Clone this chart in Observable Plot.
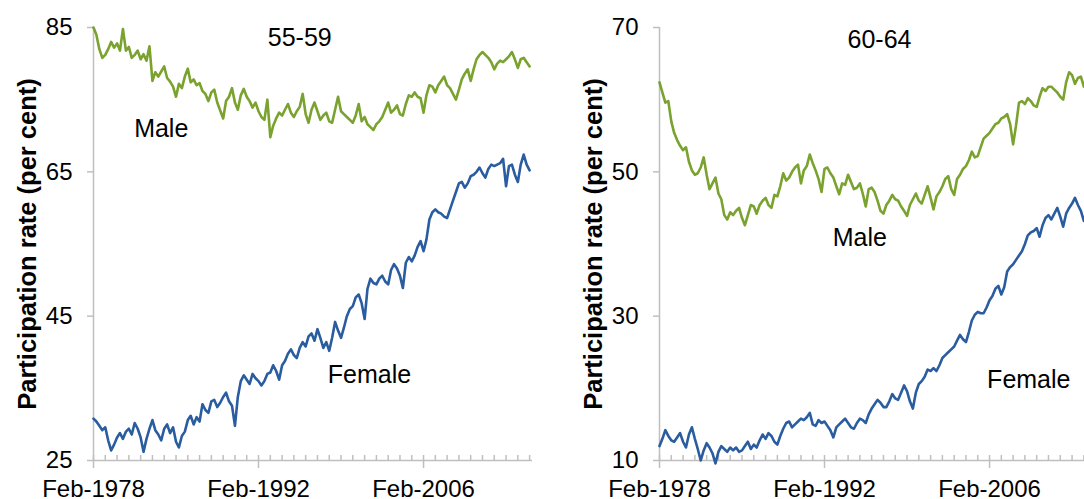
<!DOCTYPE html>
<html>
<head>
<meta charset="utf-8">
<script src="https://cdn.jsdelivr.net/npm/d3@7"></script>
<script src="https://cdn.jsdelivr.net/npm/@observablehq/plot@0.6"></script>
<style>
  html, body { margin: 0; padding: 0; background: white; overflow: hidden; }
  #wrap { display: flex; width: 1132px; }
  #wrap svg { flex-shrink: 0; }
</style>
</head>
<body>
<div id="wrap"></div>
<script>
// Quarterly readings starting Feb-1978 (every 3 months)
const startDate = new Date(Date.UTC(1978, 1, 1));
const endDate = new Date(Date.UTC(2015, 4, 1));

const panelTitles = ["55-59", "60-64"];
const seriesNames = ["Male", "Female"];
const yTicksLeft = [25, 45, 65, 85];
const yTicksRight = [10, 30, 50, 70];
const xTickLabels = ["Feb-1978", "Feb-1992", "Feb-2006"];
const yLabel = "Participation rate (per cent)";

const male5559 = [85.0,84.0,82.0,80.8,81.2,82.0,83.0,82.2,82.8,81.8, 84.8,81.8,82.3,80.8,81.2,81.8,80.6,81.3,80.4,82.4, 77.6,78.8,78.2,78.9,79.6,78.0,77.5,76.8,75.4,77.2, 76.6,78.2,79.3,77.4,77.8,77.0,77.3,76.2,75.8,74.8, 76.0,76.4,74.6,73.5,72.4,74.8,75.4,76.6,74.6,73.6, 75.6,76.5,75.4,74.8,73.9,74.6,73.4,72.6,72.2,75.0, 69.8,71.4,72.4,73.2,72.8,73.6,74.4,73.2,72.6,73.4, 74.0,75.8,73.0,71.8,73.6,74.6,73.4,72.2,72.8,73.2, 72.0,71.8,73.6,75.4,73.4,73.0,72.6,72.2,71.8,72.8, 74.4,72.0,72.6,71.6,71.2,70.8,71.6,72.0,72.6,73.6, 74.6,73.2,73.6,74.2,73.0,72.8,74.4,75.6,75.4,76.0, 75.4,75.2,73.2,75.6,77.0,76.8,76.0,77.0,77.6,78.2, 77.0,76.6,75.8,75.0,76.4,77.8,78.6,79.2,77.6,79.2, 80.6,81.2,81.6,81.2,80.8,80.2,79.2,80.0,80.4,80.2, 80.6,81.0,81.6,80.6,79.4,80.6,80.8,80.2,79.6];

const female5559 = [30.8,30.4,29.8,29.2,29.6,27.8,26.4,27.2,28.2,28.8, 28.0,29.0,29.4,28.6,30.2,29.4,28.2,26.2,28.0,29.4, 30.6,29.2,28.6,27.8,29.4,30.0,28.8,29.6,27.6,26.8, 28.4,29.0,30.6,31.2,30.0,31.0,30.4,32.8,32.0,31.6, 33.2,33.4,32.4,33.0,33.8,34.4,33.2,32.6,29.8,33.8, 36.0,36.8,36.2,35.6,37.0,36.4,36.0,35.4,36.0,37.0, 37.2,38.2,37.4,36.2,38.2,38.8,39.8,40.4,39.6,39.2, 40.6,41.4,40.8,42.2,42.6,41.6,43.2,42.0,40.6,41.4, 40.2,42.0,44.2,43.0,42.0,43.4,45.0,46.0,46.4,47.6, 48.0,46.8,44.6,48.8,50.2,49.6,49.4,50.2,50.6,49.8, 49.4,51.4,52.2,51.6,50.6,48.9,52.4,53.2,52.6,53.4, 54.6,55.4,54.0,55.6,58.4,59.4,59.8,59.4,59.2,58.8, 58.6,59.8,61.0,62.2,63.4,63.6,62.8,63.4,64.4,64.6, 65.0,65.6,64.8,64.2,65.4,66.0,65.8,66.0,66.2,66.8, 63.0,65.8,66.0,64.6,63.6,66.0,67.4,66.0,65.2];

const male6064 = [62.4,61.0,59.6,59.8,57.0,55.4,54.4,53.6,53.0,53.4, 51.4,50.2,49.6,49.8,50.6,52.0,49.6,47.6,48.4,49.2, 47.0,46.2,44.0,43.4,44.4,44.0,44.6,45.0,43.6,42.6, 44.0,45.4,45.2,44.2,45.4,46.0,46.4,45.4,45.0,46.8, 46.6,48.0,49.8,48.8,49.2,50.0,50.6,51.0,48.4,50.2, 50.8,52.4,51.2,50.2,49.0,47.2,50.4,50.6,49.8,49.2, 48.0,46.9,48.4,48.2,49.6,48.6,47.6,47.8,48.4,47.0, 45.2,47.6,47.8,47.2,46.0,44.6,44.2,45.4,46.0,46.8, 46.2,46.0,45.2,44.6,43.9,45.4,46.2,47.0,46.0,45.6, 46.8,48.0,46.4,44.8,46.6,47.2,48.0,49.0,49.4,47.6, 46.8,49.0,49.6,50.4,50.8,51.6,52.8,52.0,52.2,53.4, 54.6,55.0,55.4,56.0,56.6,56.8,57.4,57.6,58.0,56.6, 53.8,56.4,59.6,59.8,59.4,60.2,59.8,59.2,59.0,60.4, 61.6,61.2,61.8,61.8,61.4,61.0,60.4,60.0,62.4,63.8, 63.4,62.2,63.0,63.2,61.8];

const female6064 = [12.0,13.0,14.2,13.4,12.8,12.6,13.2,13.8,12.6,11.8, 13.6,14.6,13.0,11.6,10.0,11.4,12.4,11.8,11.0,9.6, 11.2,12.0,11.6,11.2,11.8,11.4,11.8,11.2,11.4,12.0, 12.6,11.6,12.2,11.8,12.8,13.6,13.0,13.8,13.4,12.6, 12.2,13.4,14.4,15.2,15.4,14.6,15.0,15.4,15.8,15.6, 16.0,16.6,15.0,14.8,15.6,15.2,15.4,14.8,14.2,13.2, 14.6,15.0,15.4,15.8,15.2,14.6,14.4,15.2,15.8,15.6, 15.2,16.4,17.2,17.8,18.4,18.0,17.4,17.4,18.2,19.2, 18.6,18.4,19.4,20.4,19.6,18.2,17.2,19.4,20.6,21.0, 21.6,22.6,22.4,22.8,22.4,23.2,24.2,24.6,25.0,25.4, 25.8,26.6,27.4,26.8,26.4,27.8,29.4,30.2,30.6,30.4, 30.4,31.2,32.2,32.8,33.8,34.2,33.0,34.0,36.2,36.8, 37.2,37.8,38.4,39.0,40.0,41.2,41.6,41.8,42.2,41.0, 42.6,43.6,44.0,43.4,44.2,45.0,43.8,42.4,44.2,45.0, 45.6,46.4,45.4,44.6,43.2];

const GREEN = "#79A22E";
const BLUE = "#2A5CA0";
const AXIS = "#BFBFBF";
const FONT = '"Liberation Sans", Arial, Helvetica, sans-serif';

const toRows = arr => arr.map((v, i) => ({date: d3.utcMonth.offset(startDate, 3 * i), v}));
const parseTick = s => d3.utcParse("%b-%Y")(s);
const majorDates = xTickLabels.map(parseTick);
const minorDates = d3.range(0, 38).map(i => d3.utcYear.offset(startDate, i));

function panel({male, female, yTicks, title, titleAt, maleAt, femaleAt}) {
  return Plot.plot({
    width: 566, height: 499,
    marginLeft: 93, marginRight: 34, marginTop: 27, marginBottom: 39,
    x: {type: "utc", domain: [startDate, endDate]},
    y: {domain: [yTicks[0], yTicks[yTicks.length - 1]]},
    style: {fontFamily: FONT, fontSize: "24px", color: "black", background: "white", overflow: "visible", maxWidth: "none"},
    marks: [
      Plot.axisX({ticks: minorDates, tickSize: -5, tickFormat: () => "", stroke: AXIS, strokeWidth: 1.5, label: null}),
      Plot.axisX({ticks: majorDates, tickSize: 8, tickPadding: 11, tickFormat: d3.utcFormat("%b-%Y"), stroke: AXIS, strokeWidth: 1.5, fill: "black", fontSize: 24, label: null}),
      Plot.axisY({ticks: yTicks, tickSize: 6, tickPadding: 15, stroke: AXIS, strokeWidth: 1.5, fill: "black", fontSize: 24, label: null}),
      Plot.ruleX([startDate], {stroke: AXIS, strokeWidth: 1.5}),
      Plot.ruleY([yTicks[0]], {stroke: AXIS, strokeWidth: 1.5}),
      Plot.line(toRows(male), {x: "date", y: "v", stroke: GREEN, strokeWidth: 2.6}),
      Plot.line(toRows(female), {x: "date", y: "v", stroke: BLUE, strokeWidth: 2.6}),
      Plot.text([{...titleAt, t: title}, {...maleAt, t: seriesNames[0]}, {...femaleAt, t: seriesNames[1]}],
        {x: "d", y: "v", text: "t", fontSize: 25, fill: "black"}),
      Plot.text([yLabel], {frameAnchor: "left", textAnchor: "middle", dx: -66, dy: 0, rotate: -90, fontWeight: "bold", fontSize: 25.5, fill: "black"})
    ]
  });
}

const wrap = document.getElementById("wrap");
wrap.append(panel({
  male: male5559, female: female5559, yTicks: yTicksLeft, title: panelTitles[0],
  titleAt: {d: new Date(Date.UTC(1995, 7, 1)), v: 83.5},
  maleAt: {d: new Date(Date.UTC(1983, 10, 1)), v: 71},
  femaleAt: {d: new Date(Date.UTC(2001, 6, 1)), v: 36.9}
}));
wrap.append(panel({
  male: male6064, female: female6064, yTicks: yTicksRight, title: panelTitles[1],
  titleAt: {d: new Date(Date.UTC(1996, 9, 1)), v: 68.2},
  maleAt: {d: new Date(Date.UTC(1995, 1, 1)), v: 40.8},
  femaleAt: {d: new Date(Date.UTC(2009, 5, 1)), v: 21.1}
}));
</script>
</body>
</html>
